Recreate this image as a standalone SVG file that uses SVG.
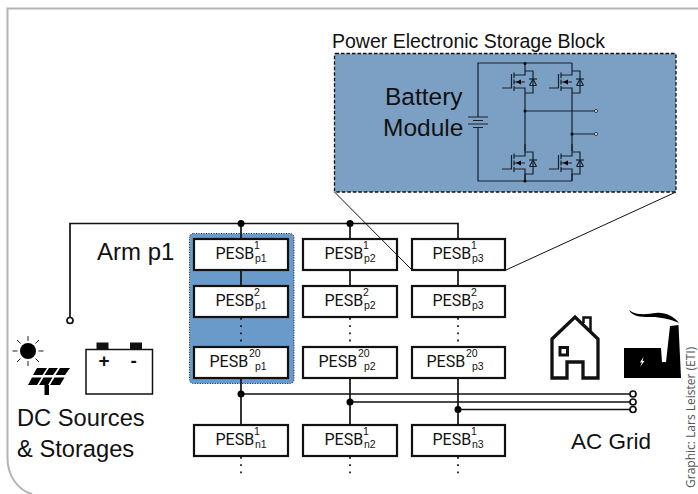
<svg xmlns="http://www.w3.org/2000/svg" width="698" height="494" viewBox="0 0 698 494">
<style>
text{font-family:"Liberation Sans",Arial,sans-serif;fill:#111}
.box{fill:#fff;stroke:#111;stroke-width:2.200}
.pesb{font-size:16px;font-family:Roboto,"Liberation Sans",sans-serif}
.ss{font-size:10.500px;font-family:"Liberation Sans",sans-serif}
.lbl{font-size:23.700px}
.w{fill:none;stroke:#111;stroke-width:1.700}
.d{fill:none;stroke:#111;stroke-width:1.700;stroke-dasharray:1.800 5.400}
.t{fill:none;stroke:#111;stroke-width:1}
.c{fill:none;stroke:#16202c;stroke-width:1.200}
.dot{fill:#000}
.o{fill:#fff;stroke:#111;stroke-width:1.700}
.k{fill:none;stroke:#111;stroke-width:3.300}
</style>
<defs>
<g id="mos">
<path class="c" d="M525,63V75H514M525,71H533V93H525M514,82H525M514,88H525V100M502,88H511.500V74"/>
<path class="c" d="M514,72.500V78M514,79.500V84.500M514,86V91"/>
<path class="dot" d="M516,82L521,79.500V84.500Z"/>
<path class="c" d="M529.500,85.500H536.500M533,79L529.500,85.500M533,79L536.500,85.500"/>
<path class="c" d="M529,79H537"/>
</g>
</defs>
<path id="frame" d="M698,8.500H7.500V458C7.500,476 18,490 32,494" fill="none" stroke="#b4b4b4" stroke-width="2"/>
<g id="storage-block">
<text x="332" y="48" font-size="19.500px">Power Electronic Storage Block</text>
<rect x="334.500" y="53.500" width="341.500" height="138.500" rx="1" fill="#7ca0c4" stroke="#111" stroke-width="1.300" stroke-dasharray="3.500 2"/>
<text x="385" y="105" font-size="24.500px">Battery</text>
<text x="383" y="136" font-size="24.500px">Module</text>
<g id="circuit">
<path class="c" d="M478,117V63H572M478,127V181H572M468,117H488M473,120.500H483M468,124H488M473,127.500H483"/>
<use href="#mos"/>
<use href="#mos" x="47"/>
<use href="#mos" y="81"/>
<use href="#mos" x="47" y="81"/>
<path class="c" d="M525,100V151M572,100V151M525,174V181M572,174V181M525,111H596M572,134H596"/>
<circle class="dot" cx="525" cy="63.500" r="1.500"/>
<circle class="dot" cx="525" cy="111" r="1.500"/>
<circle class="dot" cx="572" cy="134" r="1.500"/>
<circle class="dot" cx="525" cy="181" r="1.500"/>
<circle cx="596" cy="111" r="1.500" fill="#fff" stroke="#111" stroke-width=".8"/>
<circle cx="596" cy="134" r="1.500" fill="#fff" stroke="#111" stroke-width=".8"/>
</g>
</g>
<rect id="arm-p1" x="189.500" y="233.500" width="104.500" height="150" rx="4" fill="#6a9aca" stroke="#223" stroke-width="1" stroke-dasharray="1 1.500"/>
<text id="arm-label" x="97" y="260" font-size="24px">Arm p1</text>
<g id="connectors">
<path class="w" d="M70,317V223.500H458V239M241,223.500V239M350,223.500V239M241,270V286M350,270V286M458,270V286"/>
<path class="d" d="M241,318V347M350,318V347M458,318V347M241,457V474M350,457V474M458,457V474"/>
<path class="w" d="M241,378V425M350,378V425M458,378V425M241,394H630M350,402H630M458,409.500H630"/>
<circle class="dot" cx="241" cy="223.500" r="3.500"/>
<circle class="dot" cx="350" cy="223.500" r="3.500"/>
<circle class="dot" cx="241" cy="394" r="3.500"/>
<circle class="dot" cx="350" cy="402" r="3.500"/>
<circle class="dot" cx="458" cy="409.500" r="3.500"/>
<circle class="o" cx="70" cy="320.500" r="3"/>
<circle class="o" cx="633" cy="394" r="3"/>
<circle class="o" cx="633" cy="402" r="3"/>
<circle class="o" cx="633" cy="409.500" r="3"/>
</g>
<g id="pesb-p1-1"><rect class="box" x="194" y="239" width="94" height="31"/><text class="pesb" x="215.500" y="259">PESB<tspan class="ss" x="254" y="249">1</tspan><tspan class="ss" x="255" y="262">p1</tspan></text></g>
<g id="pesb-p1-2"><rect class="box" x="194" y="286" width="94" height="31"/><text class="pesb" x="215.500" y="306">PESB<tspan class="ss" x="254" y="296">2</tspan><tspan class="ss" x="255" y="309">p1</tspan></text></g>
<g id="pesb-p1-20"><rect class="box" x="194" y="347" width="94" height="31"/><text class="pesb" x="209.500" y="367">PESB<tspan class="ss" x="249" y="357">20</tspan><tspan class="ss" x="255" y="370">p1</tspan></text></g>
<g id="pesb-n1-1"><rect class="box" x="194" y="425" width="94" height="31"/><text class="pesb" x="215.500" y="445">PESB<tspan class="ss" x="254" y="435">1</tspan><tspan class="ss" x="255" y="448">n1</tspan></text></g>
<g id="pesb-p2-1"><rect class="box" x="303" y="239" width="94" height="31"/><text class="pesb" x="324.500" y="259">PESB<tspan class="ss" x="363" y="249">1</tspan><tspan class="ss" x="364" y="262">p2</tspan></text></g>
<g id="pesb-p2-2"><rect class="box" x="303" y="286" width="94" height="31"/><text class="pesb" x="324.500" y="306">PESB<tspan class="ss" x="363" y="296">2</tspan><tspan class="ss" x="364" y="309">p2</tspan></text></g>
<g id="pesb-p2-20"><rect class="box" x="303" y="347" width="94" height="31"/><text class="pesb" x="318.500" y="367">PESB<tspan class="ss" x="358" y="357">20</tspan><tspan class="ss" x="364" y="370">p2</tspan></text></g>
<g id="pesb-n2-1"><rect class="box" x="303" y="425" width="94" height="31"/><text class="pesb" x="324.500" y="445">PESB<tspan class="ss" x="363" y="435">1</tspan><tspan class="ss" x="364" y="448">n2</tspan></text></g>
<g id="pesb-p3-1"><rect class="box" x="412" y="239" width="93" height="31"/><text class="pesb" x="432.500" y="259">PESB<tspan class="ss" x="471" y="249">1</tspan><tspan class="ss" x="472" y="262">p3</tspan></text></g>
<g id="pesb-p3-2"><rect class="box" x="412" y="286" width="93" height="31"/><text class="pesb" x="432.500" y="306">PESB<tspan class="ss" x="471" y="296">2</tspan><tspan class="ss" x="472" y="309">p3</tspan></text></g>
<g id="pesb-p3-20"><rect class="box" x="412" y="347" width="93" height="31"/><text class="pesb" x="426.500" y="367">PESB<tspan class="ss" x="466" y="357">20</tspan><tspan class="ss" x="472" y="370">p3</tspan></text></g>
<g id="pesb-n3-1"><rect class="box" x="412" y="425" width="93" height="31"/><text class="pesb" x="432.500" y="445">PESB<tspan class="ss" x="471" y="435">1</tspan><tspan class="ss" x="472" y="448">n3</tspan></text></g>
<path id="zoom-lines" class="t" d="M334.500,192L412,270M676,192L506,270"/>
<g id="dc-sources">
<g id="sun">
<circle cx="28" cy="351" r="8" fill="#000"/>
<path d="M12.500,351H17.500M38.500,351H43.500M28,336V341M28,361V366M17,340L20.500,343.500M39,340L35.500,343.500M17,362L20.500,358.500M39,362L35.500,358.500" stroke="#222" stroke-width="1" fill="none"/>
</g>
<g id="solar-panel">
<path fill="#000" d="M37,368H47L42.500,375H33ZM49,368H58L53,375H44.500ZM60,368H70L65,375H55.500ZM32,377.500H41.500L37,385H28ZM43.500,377.500H52.500L48,385H39ZM54.500,377.500H64.500L60,385H50Z"/>
<rect x="44.500" y="385" width="4.500" height="10" fill="#000"/>
</g>
<g id="battery">
<rect x="86" y="349.500" width="66.500" height="44.500" fill="#fff" stroke="#111" stroke-width="1.500"/>
<rect x="96.500" y="342.500" width="12" height="6.500" fill="#111"/>
<rect x="130" y="342.500" width="12" height="6.500" fill="#111"/>
<text x="104" y="367" font-size="19px" font-weight="bold" text-anchor="middle">+</text>
<text x="133.700" y="367" font-size="19px" font-weight="bold" text-anchor="middle">-</text>
</g>
<text class="lbl" x="17" y="426">DC Sources</text>
<text class="lbl" x="17" y="457">&amp; Storages</text>
</g>
<g id="ac-grid">
<g id="house">
<path class="k" d="M552,378V339L575,317L598,339V378H583V362H567V378Z"/>
<path d="M583.500,323V317.500H590.500V332" fill="none" stroke="#111" stroke-width="2.500"/>
<rect x="560" y="347.500" width="7.500" height="7.500" fill="none" stroke="#111" stroke-width="3"/>
</g>
<g id="factory">
<path fill="#000" d="M624,348H661L662,362H666L670,326L678.500,325L681,378H624Z"/>
<path fill="#000" d="M629,310C636,316 648,314 656,313C664,312 674,316 679,323C673,320 664,318 655,317C645,317 633,318 629,310Z"/>
<path fill="#fff" d="M643.500,357L640,362.500H642L640,367L644.500,361H642.500Z"/>
</g>
<text x="571" y="449" font-size="22.500px">AC Grid</text>
</g>
<text id="credit" transform="translate(695 488) rotate(-90)" font-size="12px" style="font-family:'Open Sans',sans-serif;fill:#555">Graphic: Lars Leister (ETI)</text>
</svg>
